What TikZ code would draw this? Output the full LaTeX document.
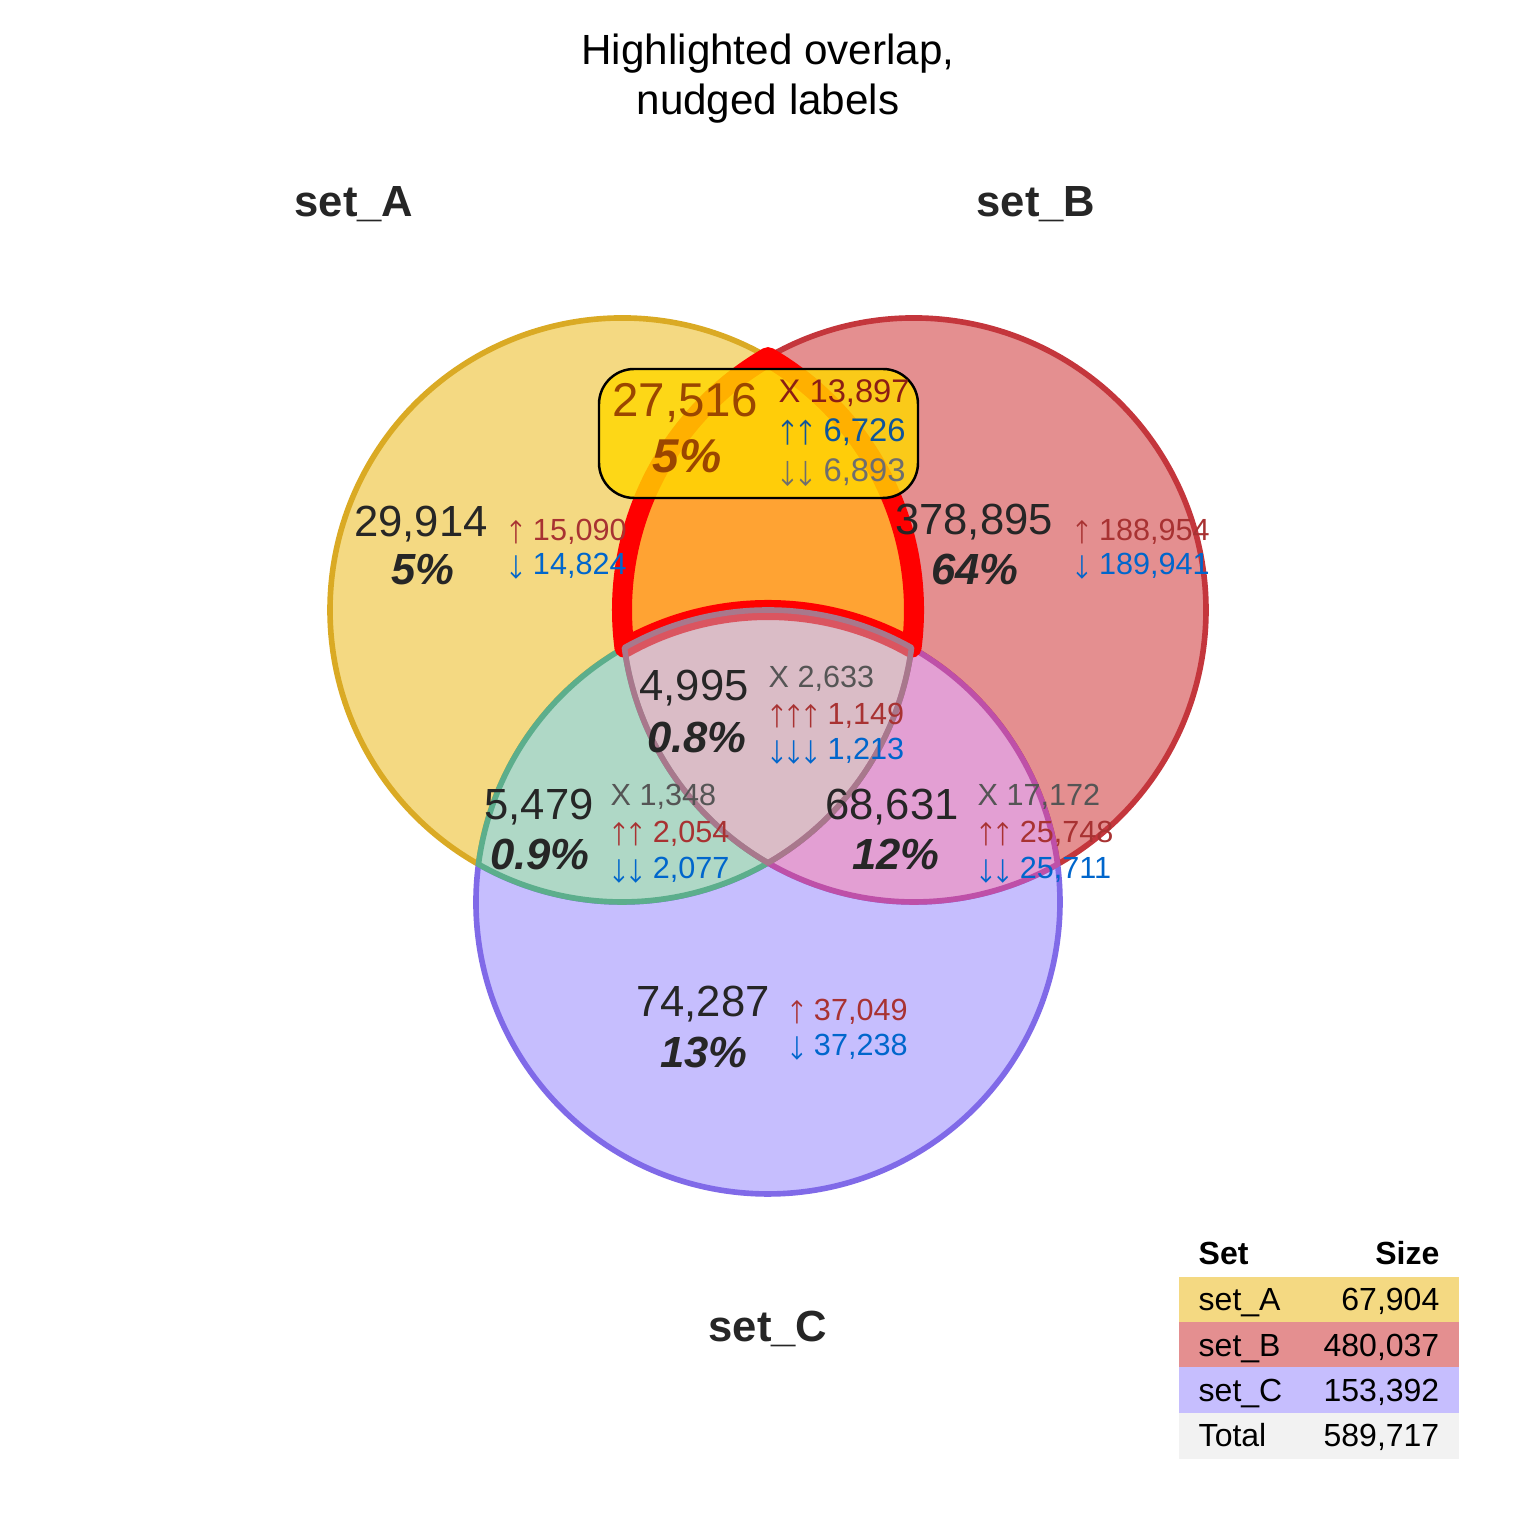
\documentclass[tikz,border=0pt]{standalone}
\usepackage{fontspec}
\usepackage{graphicx}
\setmainfont{Liberation Sans}
\newfontfamily\arrowfont{TeX Gyre Heros}
\newcommand\arrU{\scalebox{0.72}[1]{\arrowfont ↑}}
\newcommand\arrD{\scalebox{0.72}[1]{\arrowfont ↓}}
\usetikzlibrary{calc}
\definecolor{aF}{RGB}{244,217,130}
\definecolor{aS}{RGB}{218,170,36}
\definecolor{bF}{RGB}{228,143,144}
\definecolor{bS}{RGB}{196,54,60}
\definecolor{cF}{RGB}{198,190,254}
\definecolor{cS}{RGB}{128,106,232}
\definecolor{acF}{RGB}{175,216,198}
\definecolor{acS}{RGB}{92,174,140}
\definecolor{bcF}{RGB}{227,159,211}
\definecolor{bcS}{RGB}{190,80,168}
\definecolor{abcF}{RGB}{194,143,160}
\definecolor{abcS}{RGB}{168,120,140}
\definecolor{hlF}{RGB}{255,163,51}
\definecolor{hlS}{RGB}{255,0,0}
\definecolor{boxF}{RGB}{255,215,0}
\definecolor{txt}{RGB}{38,38,38}
\definecolor{upc}{RGB}{168,50,50}
\definecolor{dnc}{RGB}{0,102,204}
\definecolor{xc}{RGB}{85,85,85}
\definecolor{bxCount}{RGB}{155,70,0}
\definecolor{bxX}{RGB}{140,30,20}
\definecolor{bxUp}{RGB}{15,85,155}
\definecolor{bxDn}{RGB}{110,110,110}
\definecolor{tabG}{RGB}{242,242,242}
\tikzset{
  region/.style={line width=1.6pt, line join=round},
  cnt/.style={font=\fontsize{12.4}{14}\selectfont, text=txt, anchor=base, inner sep=0pt},
  pct/.style={font=\fontsize{12.4}{14}\selectfont\bfseries\itshape, text=txt, anchor=base, inner sep=0pt},
  sm/.style={font=\fontsize{8.7}{10}\selectfont, anchor=base west, inner sep=0pt},
  bxcnt/.style={font=\fontsize{13.5}{15}\selectfont, text=bxCount, anchor=base, inner sep=0pt},
  bxpct/.style={font=\fontsize{13.5}{15}\selectfont\bfseries\itshape, text=bxCount, anchor=base, inner sep=0pt},
  bxsm/.style={font=\fontsize{9.3}{11}\selectfont, anchor=base west, inner sep=0pt},
  setlbl/.style={font=\fontsize{12.4}{14}\selectfont\bfseries, text=txt, anchor=base, inner sep=0pt},
  ttl/.style={font=\fontsize{12}{14}\selectfont, text=black, anchor=base, inner sep=0pt},
  tab/.style={font=\fontsize{9.1}{11}\selectfont, text=black, inner sep=0pt},
  tabh/.style={font=\fontsize{9.1}{11}\selectfont\bfseries, text=black, inner sep=0pt},
}
\begin{document}
\begin{tikzpicture}[x=0.01cm, y=0.01cm]
\useasboundingbox (0,0) rectangle (1536,1536);
\def\R{292}
\coordinate (A) at (622,926);
\coordinate (B) at (914,926);
\coordinate (C) at (768,634);
\coordinate (ABt) at ([shift={(A)}]60:\R);
\coordinate (ABb) at ([shift={(A)}]-60:\R);
\coordinate (ACo) at ([shift={(A)}]240.5529:\R);
\coordinate (BCo) at ([shift={(B)}]299.4471:\R);
\coordinate (ACi) at ([shift={(A)}]-7.4227:\R);
\coordinate (BCi) at ([shift={(B)}]187.4227:\R);

% A only
\filldraw[region, fill=aF, draw=aS] (ABt)
  arc[start angle=60, end angle=240.5529, radius=\R]
  arc[start angle=172.5773, end angle=119.4471, radius=\R]
  arc[start angle=187.4227, end angle=120, radius=\R] -- cycle;
% B only
\filldraw[region, fill=bF, draw=bS] (ABt)
  arc[start angle=120, end angle=-60.5529, radius=\R]
  arc[start angle=7.4227, end angle=60.5529, radius=\R]
  arc[start angle=-7.4227, end angle=60, radius=\R] -- cycle;
% C only
\filldraw[region, fill=cF, draw=cS] (ACo)
  arc[start angle=172.5773, end angle=367.4227, radius=\R]
  arc[start angle=299.4471, end angle=240, radius=\R]
  arc[start angle=300, end angle=240.5529, radius=\R] -- cycle;
% A and C
\filldraw[region, fill=acF, draw=acS] (ACo)
  arc[start angle=240.5529, end angle=300, radius=\R]
  arc[start angle=240, end angle=187.4227, radius=\R]
  arc[start angle=119.4471, end angle=172.5773, radius=\R] -- cycle;
% B and C
\filldraw[region, fill=bcF, draw=bcS] (BCo)
  arc[start angle=299.4471, end angle=240, radius=\R]
  arc[start angle=300, end angle=352.5773, radius=\R]
  arc[start angle=60.5529, end angle=7.4227, radius=\R] -- cycle;
% A and B (highlighted)
\filldraw[line width=5.7pt, line join=round, fill=hlF, draw=hlS] (ABt)
  arc[start angle=120, end angle=187.4227, radius=\R]
  arc[start angle=119.4471, end angle=60.5529, radius=\R]
  arc[start angle=-7.4227, end angle=60, radius=\R] -- cycle;
% A, B and C
\fill[fill=abcF, fill opacity=0.6] (ABb)
  arc[start angle=300, end angle=352.5773, radius=\R]
  arc[start angle=60.5529, end angle=119.4471, radius=\R]
  arc[start angle=187.4227, end angle=240, radius=\R] -- cycle;
\draw[region, draw=abcS] (ABb)
  arc[start angle=300, end angle=352.5773, radius=\R]
  arc[start angle=60.5529, end angle=119.4471, radius=\R]
  arc[start angle=187.4227, end angle=240, radius=\R] -- cycle;

% highlighted label box
\filldraw[fill=boxF, fill opacity=0.82, draw=black, line width=0.7pt, rounded corners=10] (599,1038) rectangle (918,1167);

% title
\node[ttl] (t1) at (768,1471) {Highlighted overlap,};
\node[ttl] (t2) at (768,1421) {nudged labels};

% set labels
\node[setlbl] (lA) at (354,1319) {set\_A};
\node[setlbl] (lB) at (1036,1319) {set\_B};
\node[setlbl] (lC) at (768,194) {set\_C};

% A only
\node[cnt] (nA) at (421,999) {29,914};
\node[pct] (pA) at (423,951) {5\%};
\node[sm, text=upc] (uA) at (507,995) {\arrU\ 15,090};
\node[sm, text=dnc] (dA) at (507,961) {\arrD\ 14,824};
% B only
\node[cnt] (nB) at (974,1001) {378,895};
\node[pct] (pB) at (975,951) {64\%};
\node[sm, text=upc] (uB) at (1073,995) {\arrU\ 188,954};
\node[sm, text=dnc] (dB) at (1073,961) {\arrD\ 189,941};
% A and B (box)
\node[bxcnt] (nAB) at (685,1119) {27,516};
\node[bxpct] (pAB) at (687,1063) {5\%};
\node[bxsm, text=bxX] (xAB) at (778,1133) {X 13,897};
\node[bxsm, text=bxUp] (uAB) at (778,1094) {\arrU\arrU\ 6,726};
\node[bxsm, text=bxDn] (dAB) at (778,1054) {\arrD\arrD\ 6,893};
% A, B and C
\node[cnt] (nABC) at (694,835) {4,995};
\node[pct] (pABC) at (697,783) {0.8\%};
\node[sm, text=xc] (xABC) at (768,848) {X 2,633};
\node[sm, text=upc] (uABC) at (768,811) {\arrU\arrU\arrU\ 1,149};
\node[sm, text=dnc] (dABC) at (768,776) {\arrD\arrD\arrD\ 1,213};
% A and C
\node[cnt] (nAC) at (539,716) {5,479};
\node[pct] (pAC) at (540,666) {0.9\%};
\node[sm, text=xc] (xAC) at (610,730) {X 1,348};
\node[sm, text=upc] (uAC) at (610,693) {\arrU\arrU\ 2,054};
\node[sm, text=dnc] (dAC) at (610,657) {\arrD\arrD\ 2,077};
% B and C
\node[cnt] (nBC) at (892,716) {68,631};
\node[pct] (pBC) at (896,666) {12\%};
\node[sm, text=xc] (xBC) at (977,730) {X 17,172};
\node[sm, text=upc] (uBC) at (977,693) {\arrU\arrU\ 25,748};
\node[sm, text=dnc] (dBC) at (977,657) {\arrD\arrD\ 25,711};
% C only
\node[cnt] (nC) at (703,519) {74,287};
\node[pct] (pC) at (704,468) {13\%};
\node[sm, text=upc] (uC) at (788,515) {\arrU\ 37,049};
\node[sm, text=dnc] (dC) at (788,480) {\arrD\ 37,238};

% table
\fill[aF] (1179,214) rectangle (1459,259);
\fill[bF] (1179,169) rectangle (1459,214);
\fill[cF] (1179,123) rectangle (1459,169);
\fill[tabG] (1179,77) rectangle (1459,123);
\node[tabh, anchor=base west] (hSet) at (1198,271) {Set};
\node[tabh, anchor=base east] (hSize) at (1440,271) {Size};
\node[tab, anchor=base west] (r1a) at (1198,225) {set\_A};
\node[tab, anchor=base east] (r1b) at (1440,225) {67,904};
\node[tab, anchor=base west] (r2a) at (1198,179) {set\_B};
\node[tab, anchor=base east] (r2b) at (1440,179) {480,037};
\node[tab, anchor=base west] (r3a) at (1198,134) {set\_C};
\node[tab, anchor=base east] (r3b) at (1440,134) {153,392};
\node[tab, anchor=base west] (r4a) at (1198,89) {Total};
\node[tab, anchor=base east] (r4b) at (1440,89) {589,717};
\end{tikzpicture}
\end{document}
